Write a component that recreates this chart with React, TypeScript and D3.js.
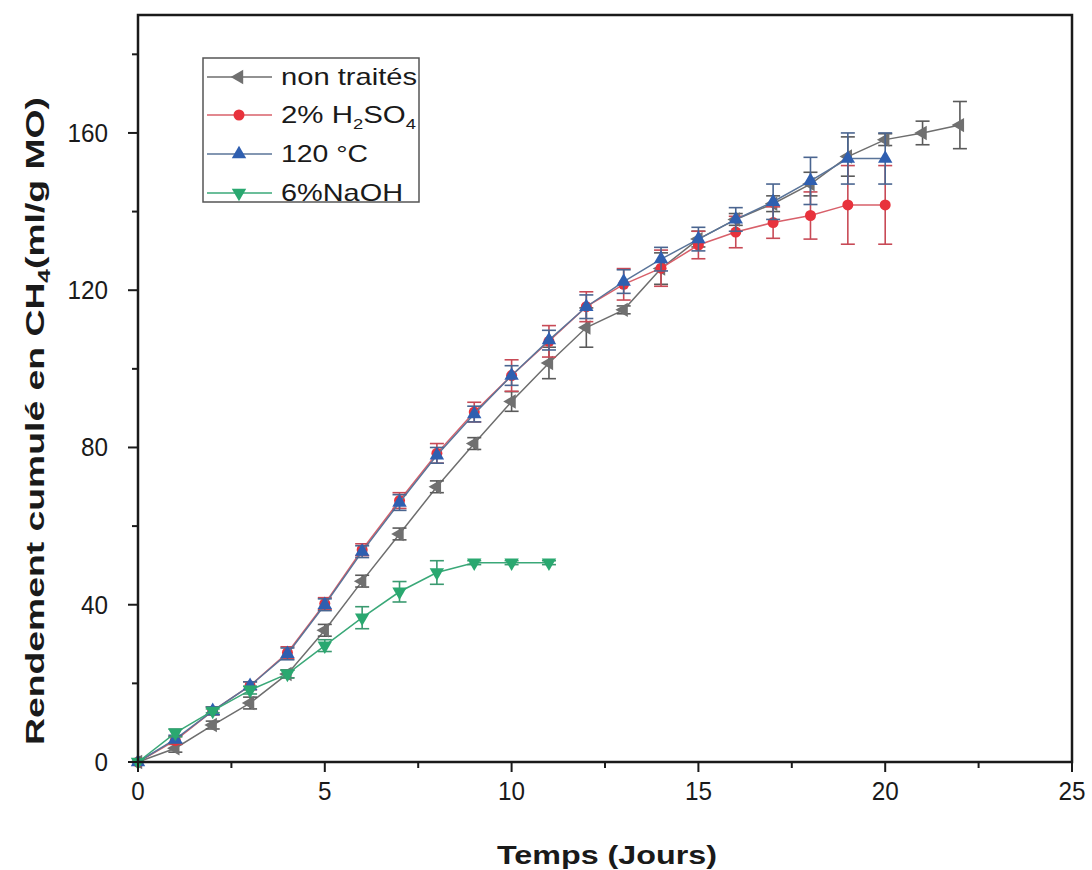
import React from "react";
import * as d3 from "d3";

// ---- Data ----
const daysNonTraites = [0, 1, 2, 3, 4, 5, 6, 7, 8, 9, 10, 11, 12, 13, 14, 15, 16, 17, 18, 19, 20, 21, 22];
const nonTraites = [0, 3.5, 9.4, 15, 22.4, 33.5, 46, 58, 70, 81, 91.7, 101.5, 110.5, 115, 125.5, 133, 138, 142, 147, 154, 158.3, 160, 162];
const nonTraitesErr = [0, 1, 1, 1.5, 1, 1.5, 1.5, 1.5, 1.5, 1.5, 2.5, 4, 5, 1, 4, 2, 1.5, 2, 3, 5, 1.5, 3, 6];

const daysH2SO4 = [0, 1, 2, 3, 4, 5, 6, 7, 8, 9, 10, 11, 12, 13, 14, 15, 16, 17, 18, 19, 20];
const h2so4 = [0, 5.5, 13, 19.4, 27.8, 40.3, 54, 66.5, 78.5, 89, 98.3, 107, 115.8, 121.5, 125.6, 131.5, 134.8, 137.2, 139, 141.7, 141.7];
const h2so4Err = [0, 1, 1, 1, 1.5, 1.5, 1.5, 2, 2.5, 2.5, 4, 4, 3.8, 4, 4.6, 3.5, 4, 4, 6, 10, 10];

const days120C = [0, 1, 2, 3, 4, 5, 6, 7, 8, 9, 10, 11, 12, 13, 14, 15, 16, 17, 18, 19, 20];
const t120C = [0, 5.8, 13, 19.4, 27.5, 40, 53.5, 66, 78, 88.5, 98.3, 107.3, 115.8, 122.2, 127.9, 133, 138, 142.5, 147.8, 153.5, 153.5];
const t120CErr = [0, 1, 1, 1, 1.5, 1.5, 1.5, 2, 2, 2, 2.5, 2.5, 3, 3, 3, 3, 3, 4.5, 6, 6.5, 6.5];

const daysNaOH = [0, 1, 2, 3, 4, 5, 6, 7, 8, 9, 10, 11];
const naoh = [0, 7.4, 13, 18.3, 22.4, 29.6, 36.7, 43.3, 48.2, 50.7, 50.7, 50.7];
const naohErr = [0, 1, 0.5, 1, 1, 1.5, 2.8, 2.6, 3, 0.5, 0.5, 0.5];

const xTicks = [0, 5, 10, 15, 20, 25];
const xMinorTicks = [2.5, 7.5, 12.5, 17.5, 22.5];
const yTicks = [0, 40, 80, 120, 160];
const yMinorTicks = [20, 60, 100, 140, 180];

const W = 1092;
const H = 870;
const PL = 138, PR = 1072, PT = 15, PB = 762;

const FONT = "'Liberation Sans', Arial, Helvetica, sans-serif";

type Series = {
  key: string;
  days: number[];
  vals: number[];
  errs: number[];
  line: string;
  fill: string;
  err: string;
  marker: "left" | "circle" | "up" | "down";
};

const series: Series[] = [
  { key: "nt", days: daysNonTraites, vals: nonTraites, errs: nonTraitesErr, line: "#6e6e6e", fill: "#707070", err: "#5a5a5a", marker: "left" },
  { key: "h2", days: daysH2SO4, vals: h2so4, errs: h2so4Err, line: "#d8606a", fill: "#e8323c", err: "#c84a56", marker: "circle" },
  { key: "c120", days: days120C, vals: t120C, errs: t120CErr, line: "#5a7499", fill: "#2f5fb0", err: "#4a6590", marker: "up" },
  { key: "naoh", days: daysNaOH, vals: naoh, errs: naohErr, line: "#3aa878", fill: "#2aa870", err: "#3a9a70", marker: "down" },
];

const x = d3.scaleLinear().domain([0, 25]).range([PL, PR]);
const y = d3.scaleLinear().domain([0, 190]).range([PB, PT]);

const triPath = d3.symbol().type(d3.symbolTriangle).size(90)() as string;

function Marker({ kind, cx, cy, fill }: { kind: Series["marker"]; cx: number; cy: number; fill: string }) {
  if (kind === "circle") return <circle cx={cx} cy={cy} r={5.5} fill={fill} />;
  const rot = kind === "up" ? 0 : kind === "down" ? 180 : -90;
  return <path d={triPath} transform={`translate(${cx},${cy}) rotate(${rot})`} fill={fill} />;
}

export default function App() {
  const line = d3
    .line<[number, number]>()
    .x((d) => x(d[0]))
    .y((d) => y(d[1]));

  const legendItems = [
    { s: series[0], y: 77, label: <tspan>non traités</tspan>, len: 136 },
    {
      s: series[1],
      y: 115,
      label: (
        <>
          <tspan>2% H</tspan>
          <tspan fontSize={15} dy={6}>2</tspan>
          <tspan dy={-6}>SO</tspan>
          <tspan fontSize={15} dy={6}>4</tspan>
        </>
      ),
      len: 135,
    },
    { s: series[2], y: 154, label: <tspan>120 °C</tspan>, len: 87 },
    { s: series[3], y: 193, label: <tspan>6%NaOH</tspan>, len: 122 },
  ];

  const tickLen = (t: number) => String(t).length * 13.5;

  return (
    <svg width={W} height={H} style={{ position: "absolute", left: 0, top: 0, background: "#fff" }} fontFamily={FONT}>
      <rect x={0} y={0} width={W} height={H} fill="#fff" />

      {/* series: error bars, lines, markers */}
      {series.map((s) => (
        <g key={s.key}>
          <path d={line(s.days.map((d, i) => [d, s.vals[i]] as [number, number])) || ""} fill="none" stroke={s.line} strokeWidth={1.5} />
          {s.days.map((d, i) =>
            s.errs[i] > 0 ? (
              <g key={i} stroke={s.err} strokeWidth={1.6}>
                <line x1={x(d)} x2={x(d)} y1={y(s.vals[i] - s.errs[i])} y2={y(s.vals[i] + s.errs[i])} />
                <line x1={x(d) - 7} x2={x(d) + 7} y1={y(s.vals[i] + s.errs[i])} y2={y(s.vals[i] + s.errs[i])} />
                <line x1={x(d) - 7} x2={x(d) + 7} y1={y(s.vals[i] - s.errs[i])} y2={y(s.vals[i] - s.errs[i])} />
              </g>
            ) : null
          )}
          {s.days.map((d, i) => (
            <Marker key={i} kind={s.marker} cx={x(d)} cy={y(s.vals[i])} fill={s.fill} />
          ))}
        </g>
      ))}

      {/* frame */}
      <rect x={PL} y={PT} width={PR - PL} height={PB - PT} fill="none" stroke="#1a1a1a" strokeWidth={2.5} />

      {/* y axis ticks */}
      {yTicks.map((t) => (
        <g key={t}>
          <line x1={PL - 10} x2={PL} y1={y(t)} y2={y(t)} stroke="#1a1a1a" strokeWidth={2} />
          <text
            x={PL - 30}
            y={y(t) + 9}
            textAnchor="end"
            fontSize={26}
            fill="#1a1a1a"
            textLength={tickLen(t)}
            lengthAdjust="spacingAndGlyphs"
          >
            {t}
          </text>
        </g>
      ))}
      {yMinorTicks.map((t) => (
        <line key={t} x1={PL - 6} x2={PL} y1={y(t)} y2={y(t)} stroke="#1a1a1a" strokeWidth={2} />
      ))}

      {/* x axis ticks */}
      {xTicks.map((t) => (
        <g key={t}>
          <line x1={x(t)} x2={x(t)} y1={PB} y2={PB + 10} stroke="#1a1a1a" strokeWidth={2} />
          <text
            x={x(t)}
            y={800}
            textAnchor="middle"
            fontSize={26}
            fill="#1a1a1a"
            textLength={tickLen(t)}
            lengthAdjust="spacingAndGlyphs"
          >
            {t}
          </text>
        </g>
      ))}
      {xMinorTicks.map((t) => (
        <line key={t} x1={x(t)} x2={x(t)} y1={PB} y2={PB + 6} stroke="#1a1a1a" strokeWidth={2} />
      ))}

      {/* axis titles */}
      <text x={607} y={864} textAnchor="middle" fontSize={26} fontWeight="bold" fill="#1a1a1a" textLength={220} lengthAdjust="spacingAndGlyphs">
        Temps (Jours)
      </text>
      <text
        transform={`translate(44,421) rotate(-90)`}
        textAnchor="middle"
        fontSize={26}
        fontWeight="bold"
        fill="#1a1a1a"
        textLength={648}
        lengthAdjust="spacingAndGlyphs"
      >
        <tspan>Rendement cumulé en CH</tspan>
        <tspan fontSize={17} dy={6}>4</tspan>
        <tspan dy={-6}>(ml/g MO)</tspan>
      </text>

      {/* legend */}
      <rect x={203} y={58} width={216} height={144} fill="#fff" stroke="#555" strokeWidth={1.5} />
      {legendItems.map((it, i) => (
        <g key={i}>
          <line x1={207} x2={272} y1={it.y} y2={it.y} stroke={it.s.line} strokeWidth={1.5} />
          <Marker kind={it.s.marker} cx={239} cy={it.y} fill={it.s.fill} />
          <text x={281} y={it.y + 8} fontSize={24} fill="#1a1a1a" textLength={it.len} lengthAdjust="spacingAndGlyphs">
            {it.label}
          </text>
        </g>
      ))}
    </svg>
  );
}
